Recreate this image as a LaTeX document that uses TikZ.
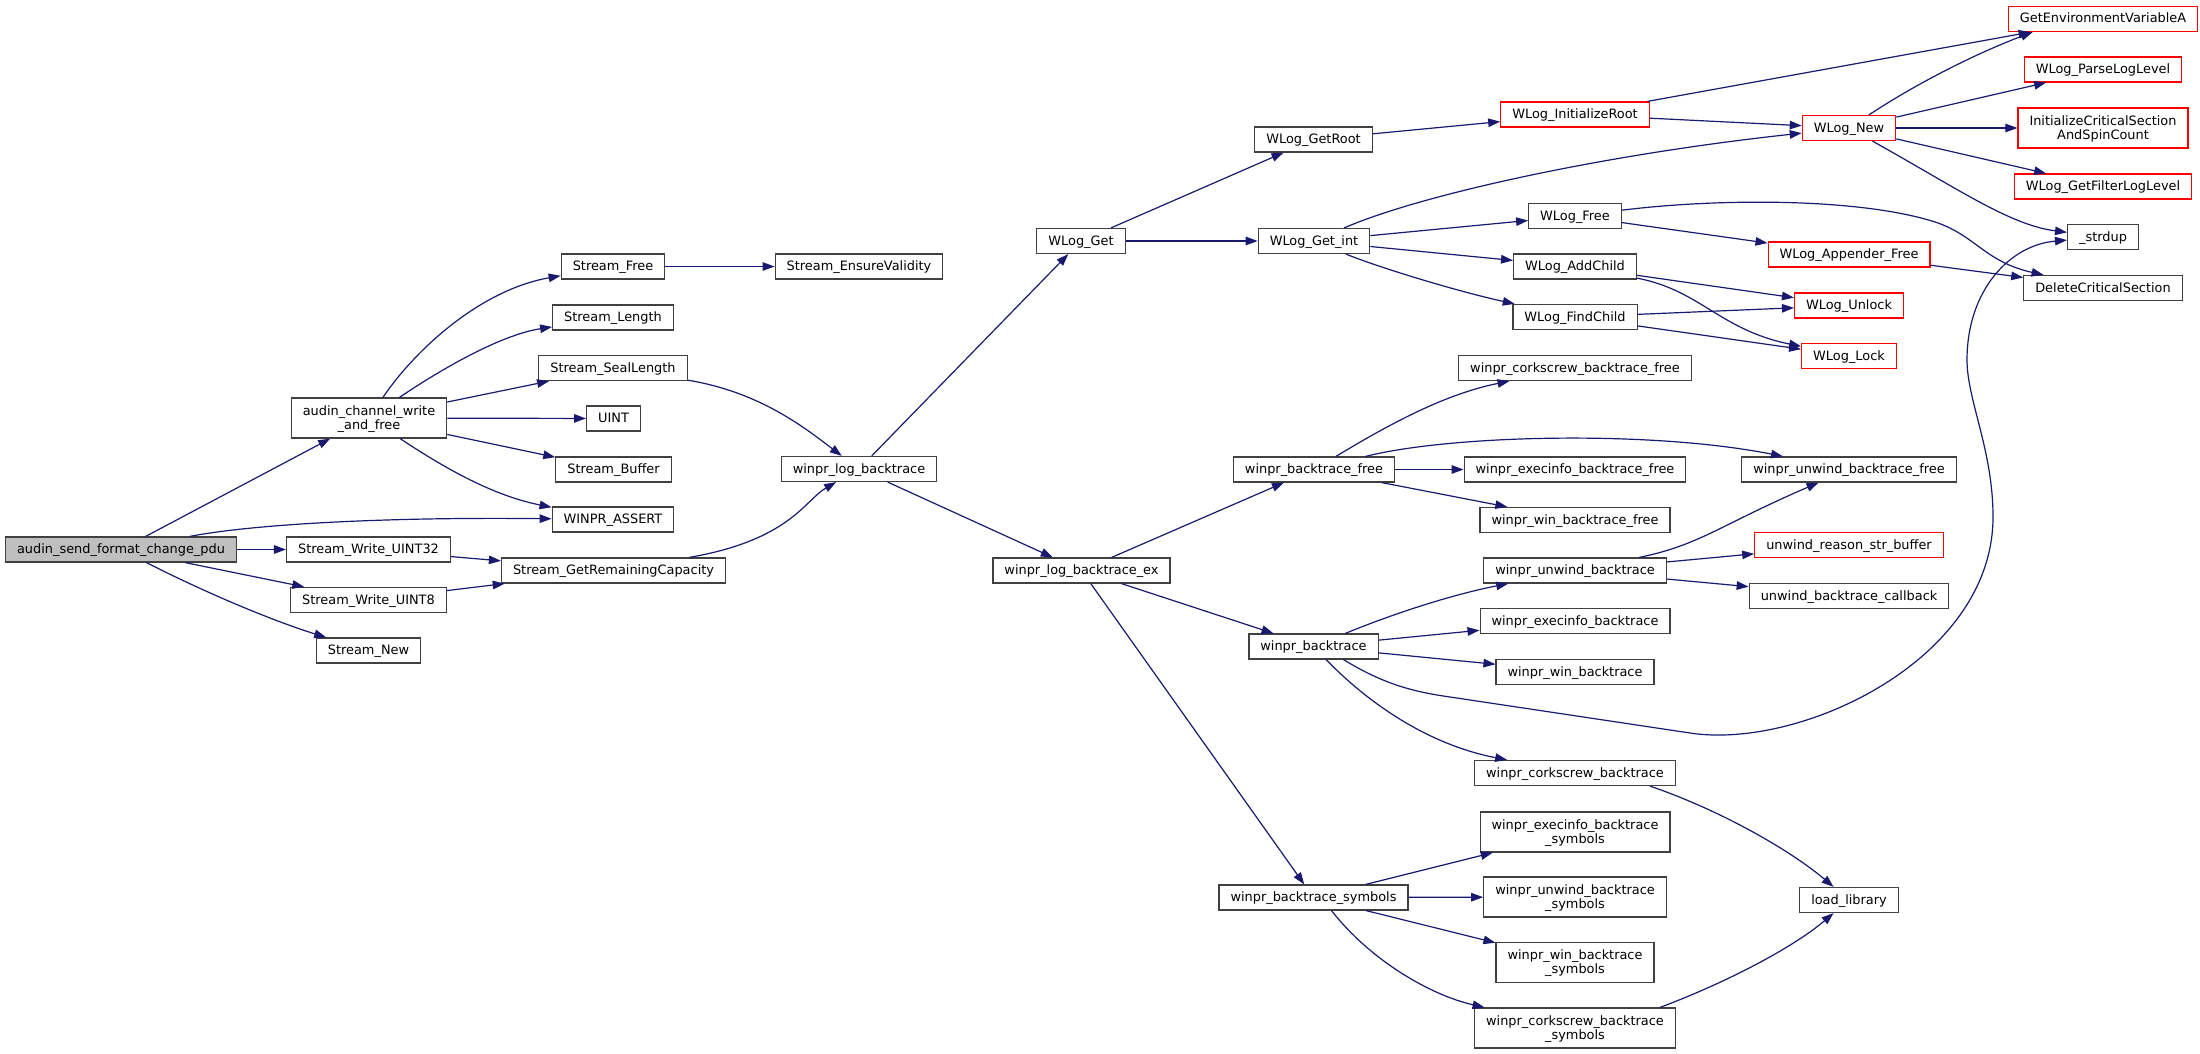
\documentclass[tikz,border=0pt]{standalone}
\usepackage{fontspec}
\setmainfont{DejaVu Sans}
\usetikzlibrary{arrows.meta}
\definecolor{edgeblue}{HTML}{191970}
\definecolor{rootgray}{HTML}{BFBFBF}
\definecolor{boxline}{HTML}{404040}
\newcommand\fnsize{\fontsize{12.9pt}{14pt}\selectfont}
\tikzset{
  box/.style={draw=boxline, line width=1.2pt, fill=white, inner xsep=11.5pt, font=\fnsize},
  fn/.style={box, inner ysep=0pt, minimum height=25pt, text height=9.6pt, text depth=1.6pt},
  fntwo/.style={box, align=center, inner ysep=0pt, minimum height=40pt, text height=25.6pt, text depth=3pt},
  trunc/.style={draw=red},
  root/.style={fill=rootgray},
  call/.style={draw=edgeblue, line width=1.2pt, -{Triangle[length=12pt,width=8.5pt]}}
}
\begin{document}
\begin{tikzpicture}[x=1pt,y=-1pt]
\fill[white] (0,0) rectangle (2200,1054);
\useasboundingbox (0,0) rectangle (2200,1054);
% caller and its direct callees
\node[fn,root] (a0) at (121,549.5) {audin\_send\_format\_change\_pdu};
\node[fntwo] (acw) at (369,418) {audin\_channel\_write\\\_and\_free};
\node[fn] (wu32) at (368.5,549.5) {Stream\_Write\_UINT32};
\node[fn] (wu8) at (368.5,600) {Stream\_Write\_UINT8};
\node[fn] (snew) at (368.5,650.5) {Stream\_New};
% stream helpers
\node[fn] (sfree) at (613,266.5) {Stream\_Free};
\node[fn] (slen) at (613,317.5) {Stream\_Length};
\node[fn] (sseal) at (613,368) {Stream\_SealLength};
\node[fn] (uint) at (613.5,418.5) {UINT};
\node[fn] (sbuf) at (613.5,469.5) {Stream\_Buffer};
\node[fn] (assert) at (613,519.5) {WINPR\_ASSERT};
\node[fn] (scap) at (613.5,570.5) {Stream\_GetRemainingCapacity};
\node[fn] (sval) at (859,266.5) {Stream\_EnsureValidity};
\node[fn] (wlb) at (859,469) {winpr\_log\_backtrace};
% logging and backtrace
\node[fn] (wget) at (1081,241) {WLog\_Get};
\node[fn] (wlbex) at (1081.5,570.5) {winpr\_log\_backtrace\_ex};
\node[fn] (groot) at (1313.5,139.5) {WLog\_GetRoot};
\node[fn] (gint) at (1314,241) {WLog\_Get\_int};
\node[fn] (btfree) at (1314,469.5) {winpr\_backtrace\_free};
\node[fn] (bt) at (1313.5,646.5) {winpr\_backtrace};
\node[fn] (bts) at (1313.5,897.5) {winpr\_backtrace\_symbols};
\node[fn,trunc] (initroot) at (1575,114.5) {WLog\_InitializeRoot};
\node[fn] (wfree) at (1575,216) {WLog\_Free};
\node[fn] (addch) at (1575,266.5) {WLog\_AddChild};
\node[fn] (findch) at (1575,317) {WLog\_FindChild};
\node[fn] (ckfree) at (1575,368) {winpr\_corkscrew\_backtrace\_free};
\node[fn] (exfree) at (1575,469.5) {winpr\_execinfo\_backtrace\_free};
\node[fn] (winfree) at (1575,520) {winpr\_win\_backtrace\_free};
\node[fn] (unw) at (1575,570.5) {winpr\_unwind\_backtrace};
\node[fn] (exbt) at (1575,621) {winpr\_execinfo\_backtrace};
\node[fn] (winbt) at (1575,672) {winpr\_win\_backtrace};
\node[fn] (ckbt) at (1575,773) {winpr\_corkscrew\_backtrace};
\node[fntwo] (exsym) at (1575,832) {winpr\_execinfo\_backtrace\\\_symbols};
\node[fntwo] (unsym) at (1575,897) {winpr\_unwind\_backtrace\\\_symbols};
\node[fntwo] (winsym) at (1575,962.5) {winpr\_win\_backtrace\\\_symbols};
\node[fntwo] (cksym) at (1575,1028) {winpr\_corkscrew\_backtrace\\\_symbols};
\node[fn,trunc] (wnew) at (1849,128) {WLog\_New};
\node[fn,trunc] (appfree) at (1849,254.5) {WLog\_Appender\_Free};
\node[fn,trunc] (unlock) at (1849,305.5) {WLog\_Unlock};
\node[fn,trunc] (lock) at (1849,356) {WLog\_Lock};
\node[fn] (unfree) at (1849,469.5) {winpr\_unwind\_backtrace\_free};
\node[fn,trunc] (reason) at (1849,545) {unwind\_reason\_str\_buffer};
\node[fn] (cb) at (1849,596) {unwind\_backtrace\_callback};
\node[fn] (loadlib) at (1849,900) {load\_library};
\node[fn,trunc] (gev) at (2103,19) {GetEnvironmentVariableA};
\node[fn,trunc] (parse) at (2103,69.5) {WLog\_ParseLogLevel};
\node[fntwo,trunc] (ics) at (2103,128) {InitializeCriticalSection\\AndSpinCount};
\node[fn,trunc] (filter) at (2103,186.5) {WLog\_GetFilterLogLevel};
\node[fn] (strdup) at (2103,237) {\_strdup};
\node[fn] (dcs) at (2103,288) {DeleteCriticalSection};
% straight calls
\foreach \a/\b in {a0/acw, a0/wu32, a0/wu8, acw/sseal, acw/uint, acw/sbuf,
  wu32/scap, wu8/scap, sfree/sval, wlb/wget, wlb/wlbex, wget/groot, wget/gint,
  groot/initroot, initroot/gev, initroot/wnew, gint/wfree, gint/addch,
  wnew/parse, wnew/ics, wnew/filter, wfree/appfree, appfree/dcs, addch/unlock,
  findch/unlock, findch/lock, wlbex/btfree, wlbex/bt, wlbex/bts, btfree/exfree,
  btfree/winfree, unw/reason, unw/cb, bt/exbt, bt/winbt, bts/exsym, bts/unsym, bts/winsym}
{
\draw[call] (\a) -- (\b);
}
% curved calls
\draw[call] (a0) .. controls (260,523) and (400,517) .. (assert);
\draw[call] (a0) .. controls (200,590) and (270,620) .. (snew);
\draw[call] (acw) .. controls (415,350) and (480,290) .. (sfree);
\draw[call] (acw) .. controls (440,370) and (500,335) .. (slen);
\draw[call] (acw) .. controls (440,465) and (490,495) .. (assert);
\draw[call] (sseal) .. controls (760,392) and (805,428) .. (wlb);
\draw[call] (scap) .. controls (790,540) and (805,500) .. (wlb);
\draw[call] (gint) .. controls (1420,195) and (1600,155) .. (wnew);
\draw[call] (gint) .. controls (1380,268) and (1460,292) .. (findch);
\draw[call] (wnew) .. controls (1925,78) and (1985,50) .. ([xshift=25pt]gev.south west);
\draw[call] (wnew) .. controls (1960,190) and (2010,225) .. (strdup);
\draw[call] (wfree) .. controls (1720,198) and (1860,198) .. (1935,222)
   .. controls (1975,235) and (1985,262) .. (dcs);
\draw[call] (addch) .. controls (1700,290) and (1720,330) .. (lock);
\draw[call] (btfree) .. controls (1380,430) and (1440,395) .. (ckfree);
\draw[call] (btfree) .. controls (1450,435) and (1650,430) .. (unfree);
\draw[call] (unw) .. controls (1700,545) and (1720,525) .. (unfree);
\draw[call] (bt) .. controls (1390,615) and (1450,595) .. (unw);
\draw[call] (bt) .. controls (1370,705) and (1430,745) .. (ckbt);
\draw[call] ([xshift=30pt]bt.south) .. controls (1385,685) and (1415,692) .. (1450,697)
   -- (1690,733) .. controls (1800,750) and (1993,660) .. (1993,517)
   .. controls (1993,450) and (1967,400) .. (1967,360)
   .. controls (1967,290) and (2010,245) .. (strdup);
\draw[call] ([xshift=75pt]ckbt.south) .. controls (1720,810) and (1790,850) .. (loadlib);
\draw[call] ([xshift=18pt]bts.south) .. controls (1370,960) and (1430,995) .. (cksym);
\draw[call] ([xshift=85pt]cksym.north) .. controls (1720,985) and (1790,950) .. (loadlib);
\end{tikzpicture}
\end{document}
